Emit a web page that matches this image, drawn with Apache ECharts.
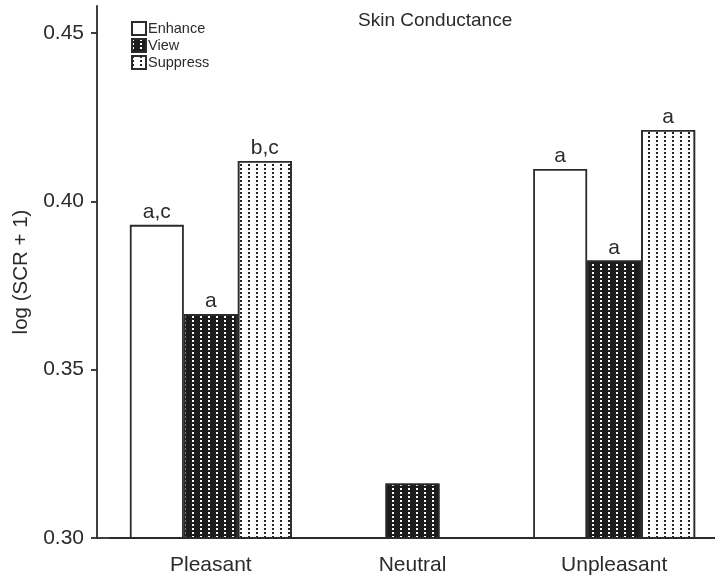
<!DOCTYPE html>
<html>
<head>
<meta charset="utf-8">
<script src="https://cdn.jsdelivr.net/npm/echarts@6/dist/echarts.min.js"></script>
<style>html,body{margin:0;padding:0;background:#fff;}#c{width:715px;height:575px;}</style>
</head>
<body>
<div id="c"></div>
<script>
const categories = ['Pleasant', 'Neutral', 'Unpleasant'];
const enhance = [0.393, null, 0.4096];
const view = [0.3665, 0.3162, 0.3824];
const suppress = [0.412, null, 0.4212];
const enhanceLabels = ['a,c', '', 'a'];
const viewLabels = ['a', '', 'a'];
const suppressLabels = ['b,c', '', 'a'];
const yTicks = [0.30, 0.35, 0.40, 0.45];

const FONT = 'Liberation Sans, Arial, Helvetica, sans-serif';
const INK = '#2b2b2b';
const GRID_LEFT = 110, Y_OFFSET = 13, GRID_BOTTOM = 37, GRID_TOP = 6;

const chart = echarts.init(document.getElementById('c'));

function barSeries(name, data, labels, itemStyle) {
  return {
    name: name,
    type: 'bar',
    data: data,
    barWidth: 54,
    barGap: '0%',
    itemStyle: Object.assign({borderColor: INK, borderWidth: 1.8}, itemStyle),
    label: {
      show: true,
      position: 'top',
      distance: 2,
      fontFamily: FONT,
      fontSize: 21,
      color: INK,
      formatter: p => labels[p.dataIndex]
    }
  };
}

chart.setOption({
  animation: false,
  backgroundColor: '#fff',
  title: {
    text: 'Skin Conductance',
    left: 353, top: 6,
    textStyle: {fontFamily: FONT, fontSize: 19, fontWeight: 'normal', color: INK}
  },
  legend: {
    orient: 'vertical',
    left: 126, top: 16,
    itemWidth: 14, itemHeight: 13, itemGap: 2,
    icon: 'rect',
    textStyle: {fontFamily: FONT, fontSize: 14.5, color: INK, padding: [0,0,0,-3]},
    data: ['Enhance', 'View', 'Suppress']
  },
  grid: {left: GRID_LEFT, right: 0, top: GRID_TOP, bottom: GRID_BOTTOM,
    containLabel: false, outerBoundsMode: 'none'},
  xAxis: {
    type: 'category',
    data: categories,
    axisLine: {lineStyle: {color: INK, width: 1.8}},
    axisTick: {alignWithLabel: true, length: 9, lineStyle: {color: INK, width: 1.8}},
    axisLabel: {fontFamily: FONT, fontSize: 21, color: INK, margin: 17}
  },
  yAxis: {
    type: 'value',
    min: 0.30, max: 0.458, interval: 0.05,
    offset: Y_OFFSET,
    name: 'log (SCR + 1)',
    nameLocation: 'middle',
    nameGap: 65,
    nameRotate: 90,
    nameTextStyle: {fontFamily: FONT, fontSize: 20.5, color: INK},
    axisLine: {show: true, lineStyle: {color: INK, width: 1.8}},
    axisTick: {show: true, length: 6, customValues: yTicks, lineStyle: {color: INK, width: 1.8}},
    axisLabel: {fontFamily: FONT, fontSize: 21, color: INK, margin: 13,
      customValues: yTicks, formatter: v => v.toFixed(2)},
    splitLine: {show: false}
  },
  series: [
    barSeries('Enhance', enhance, enhanceLabels, {color: '#ffffff'}),
    barSeries('View', view, viewLabels, {
      color: '#1c1c1c',
      decal: {symbol: 'rect', symbolSize: 1, color: '#ffffff', backgroundColor: '#1c1c1c',
        dashArrayX: [2, 6], dashArrayY: [2, 2], rotation: 0}
    }),
    barSeries('Suppress', suppress, suppressLabels, {
      color: '#ffffff',
      decal: {symbol: 'rect', symbolSize: 1, color: '#222222', backgroundColor: '#ffffff',
        dashArrayX: [2, 6], dashArrayY: [2, 2], rotation: 0}
    })
  ]
});

// extend the baseline to the offset y-axis
const baseY = chart.convertToPixel({yAxisIndex: 0}, 0.30);
chart.setOption({
  graphic: [{
    type: 'line', silent: true,
    shape: {x1: GRID_LEFT - Y_OFFSET, y1: baseY, x2: GRID_LEFT, y2: baseY},
    style: {stroke: INK, lineWidth: 1.8}
  }]
});
</script>
</body>
</html>
